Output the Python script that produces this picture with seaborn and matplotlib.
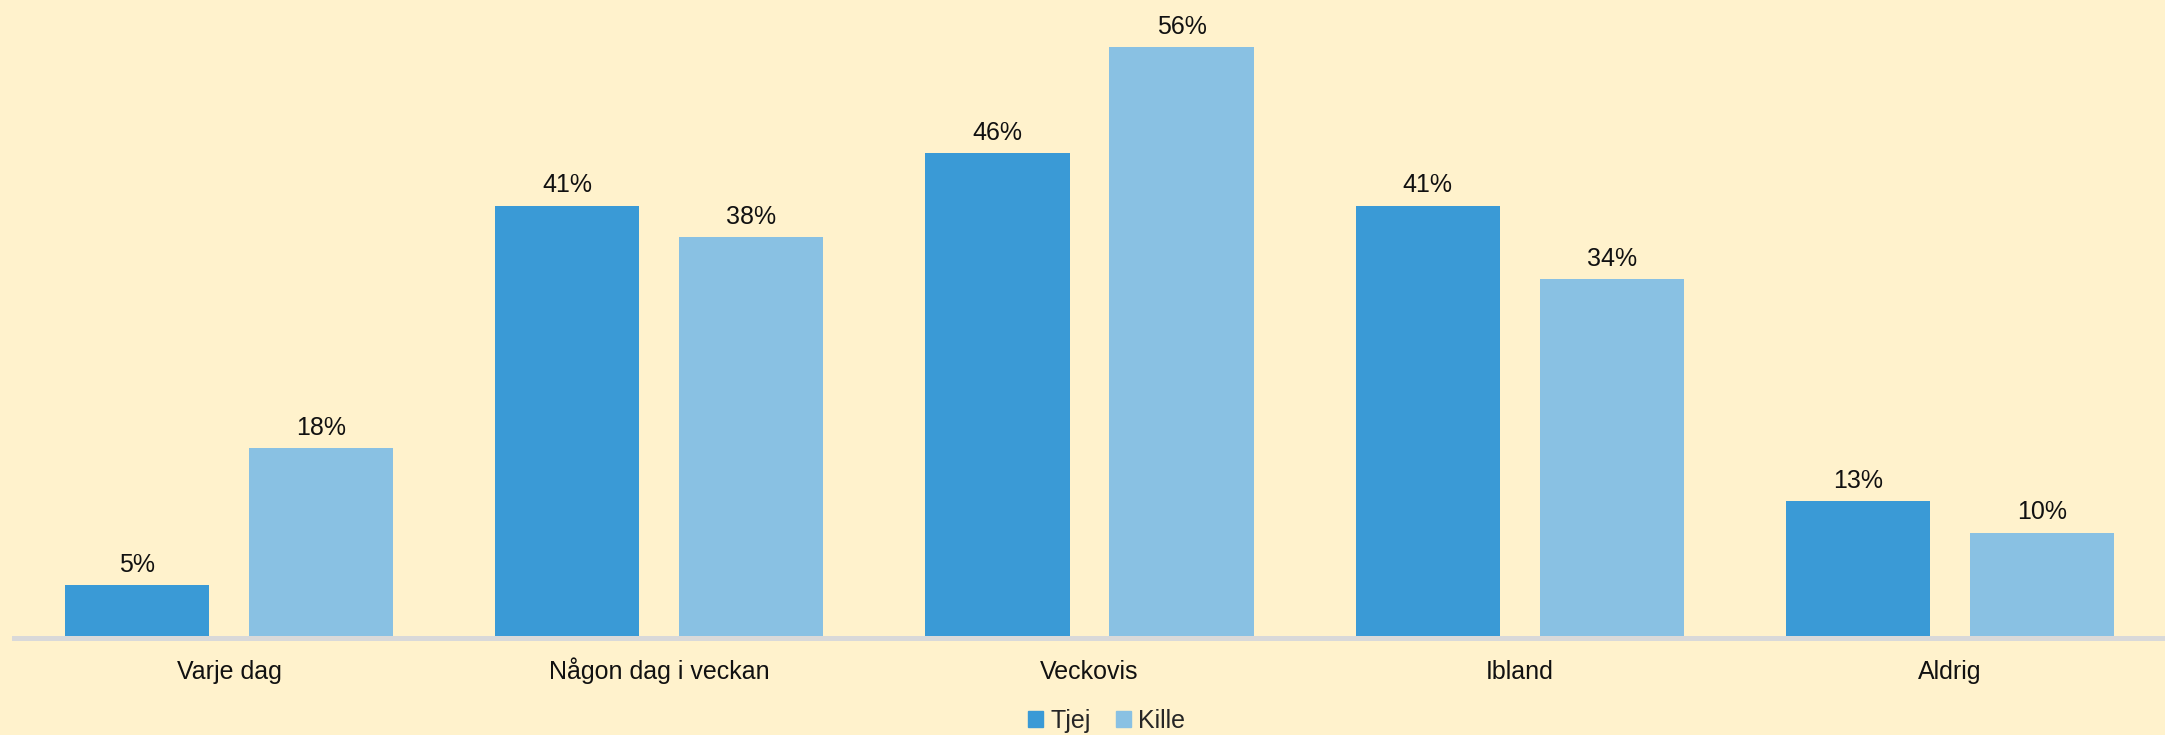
import pandas as pd
import matplotlib.pyplot as plt
import seaborn as sns

# Data
categories = ["Varje dag", "Någon dag i veckan", "Veckovis", "Ibland", "Aldrig"]
tjej = [5, 41, 46, 41, 13]
kille = [18, 38, 56, 34, 10]

df = pd.DataFrame({
    "Kategori": categories * 2,
    "Andel": tjej + kille,
    "Kön": ["Tjej"] * len(categories) + ["Kille"] * len(categories),
})

bg = "#FFF2CC"
colors = {"Tjej": "#3A9AD6", "Kille": "#89C1E3"}

sns.set_theme(style="white")
plt.rcParams["font.family"] = ["Liberation Sans", "DejaVu Sans"]

fig = plt.figure(figsize=(21.65, 7.35), dpi=100, facecolor=bg)
ax = fig.add_axes([14 / 2165, 97 / 735, 1 - 14 / 2165, 638 / 735])
ax.set_facecolor(bg)

sns.barplot(
    data=df, x="Kategori", y="Andel", hue="Kön",
    palette=colors, width=0.856, gap=0.217,
    linewidth=0, saturation=1, ax=ax,
)

for cont in ax.containers:
    ax.bar_label(cont, labels=[f"{v:.0f}%" for v in cont.datavalues],
                 padding=6, fontsize=18, color="#111111")

ax.set_ylim(0, 60.5)
ax.set_xlim(-0.5, len(categories) - 0.5)
ax.set_xlabel("")
ax.set_ylabel("")
ax.set_yticks([])
ax.tick_params(axis="x", length=0, pad=29.5, labelsize=18, labelcolor="#111111")
for lbl in ax.get_xticklabels():
    lbl.set_verticalalignment("baseline")

for side in ["top", "left", "right"]:
    ax.spines[side].set_visible(False)
ax.spines["bottom"].set_color("#D9D9D9")
ax.spines["bottom"].set_linewidth(3.6)

ax.legend_.remove()
handles = [plt.Rectangle((0, 0), 1, 1, color=colors[k]) for k in ["Tjej", "Kille"]]
fig.legend(handles, ["Tjej", "Kille"], loc="center", bbox_to_anchor=(0.511, 14 / 735),
           ncol=2, frameon=False, fontsize=18, handlelength=0.6, handleheight=0.6,
           handletextpad=0.3, columnspacing=1.0)

plt.savefig("out.png", dpi=100, facecolor=bg)
